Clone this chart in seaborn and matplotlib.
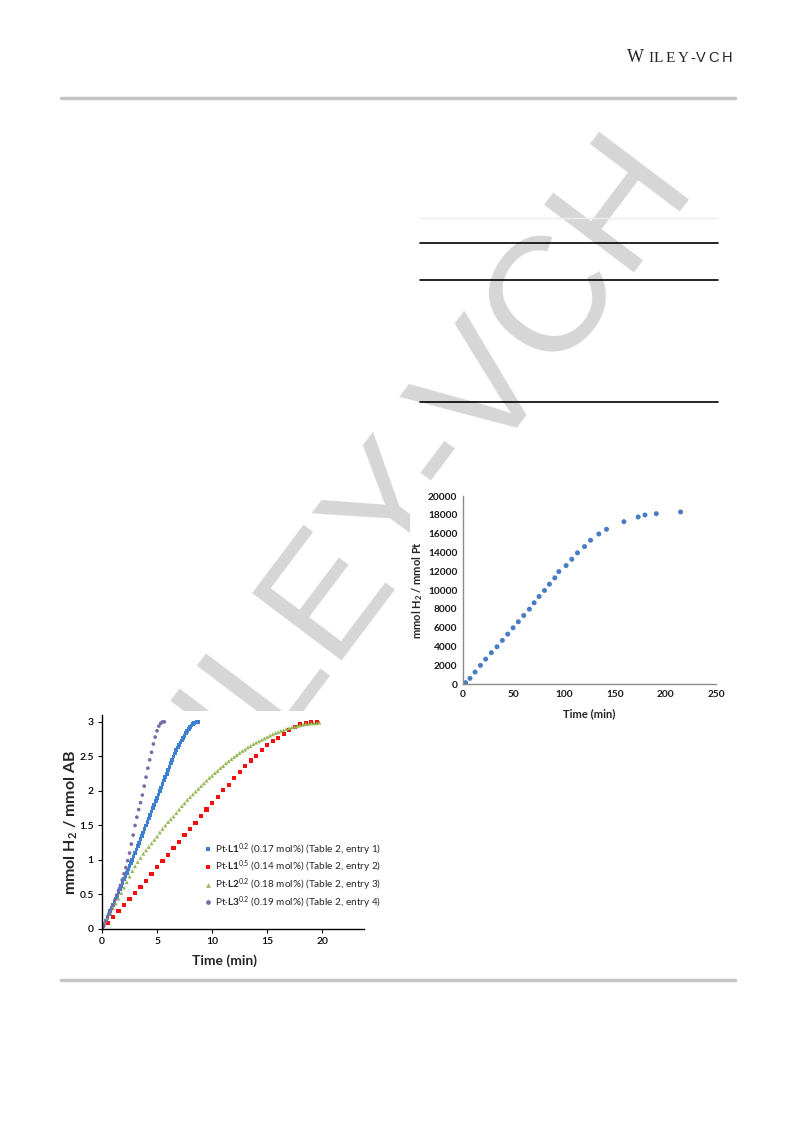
import numpy as np
import matplotlib
matplotlib.use("Agg")
import matplotlib.pyplot as plt
import seaborn as sns
from matplotlib.patches import Rectangle
from matplotlib.lines import Line2D

# right chart: TON vs time
ton_time = [2.6, 6.9, 11.9, 17.2, 22.4, 28.0, 33.6, 38.9, 44.2, 49.5, 54.7, 60.0, 65.6, 70.3,
            75.2, 80.5, 85.4, 90.7, 94.7, 101.9, 107.5, 113.1, 120.1, 126.0, 134.2, 141.8,
            159.0, 173.1, 179.8, 191.0, 215.0]
ton_h2 = [140, 600, 1270, 1980, 2650, 3330, 3960, 4640, 5310, 5980, 6620, 7290, 7960, 8640,
          9310, 9950, 10620, 11290, 11960, 12600, 13270, 13950, 14620, 15290, 15960, 16460,
          17270, 17770, 17980, 18120, 18300]

# left chart: mmol H2 / mmol AB, sampled every dt minutes
l1_02_dt = 0.125
l1_02 = [0.00, 0.04, 0.08, 0.125, 0.17, 0.21, 0.26, 0.30, 0.35,
         0.39, 0.44, 0.48, 0.53, 0.58, 0.62, 0.67, 0.72,
         0.76, 0.81, 0.86, 0.91, 0.96, 1.00, 1.05, 1.10,
         1.15, 1.20, 1.25, 1.30, 1.35, 1.40, 1.45, 1.50,
         1.55, 1.60, 1.65, 1.70, 1.75, 1.80, 1.85, 1.90,
         1.95, 2.00, 2.05, 2.10, 2.15, 2.20, 2.25, 2.30,
         2.35, 2.40, 2.45, 2.50, 2.54, 2.59, 2.63, 2.67,
         2.70, 2.73, 2.77, 2.80, 2.84, 2.87, 2.90, 2.93,
         2.95, 2.97, 2.98, 2.99, 3.00, 3.00]
l1_05_dt = 0.5
l1_05 = [0.015, 0.087, 0.17, 0.26, 0.35, 0.43, 0.52, 0.61, 0.70, 0.80,
         0.90, 0.98, 1.07, 1.17, 1.26, 1.36, 1.45, 1.54, 1.64, 1.73,
         1.82, 1.91, 2.01, 2.09, 2.19, 2.27, 2.36, 2.44, 2.51, 2.59,
         2.66, 2.72, 2.77, 2.83, 2.88, 2.93, 2.97, 2.99, 3.00, 3.00]
l2_02_dt = 0.25
l2_02 = [0.00, 0.08, 0.16, 0.23, 0.30, 0.37, 0.44, 0.52, 0.60, 0.68,
         0.76, 0.84, 0.91, 0.97, 1.03, 1.09, 1.14, 1.19, 1.24, 1.29,
         1.34, 1.40, 1.45, 1.50, 1.55, 1.59, 1.63, 1.68, 1.73, 1.78,
         1.82, 1.87, 1.91, 1.95, 1.99, 2.03, 2.07, 2.11, 2.15, 2.19,
         2.22, 2.26, 2.29, 2.33, 2.36, 2.40, 2.43, 2.46, 2.49, 2.52,
         2.55, 2.58, 2.60, 2.63, 2.65, 2.68, 2.70, 2.72, 2.74, 2.76,
         2.78, 2.80, 2.82, 2.84, 2.85, 2.87, 2.88, 2.90, 2.91, 2.92,
         2.93, 2.94, 2.95, 2.96, 2.97, 2.97, 2.98, 2.98, 2.98, 2.99]
l3_02_dt = 1 / 6
l3_02 = [0.00, 0.05, 0.11, 0.17, 0.23, 0.29, 0.35, 0.42, 0.49, 0.56,
         0.63, 0.71, 0.80, 0.89, 0.99, 1.10, 1.23, 1.36, 1.50, 1.62,
         1.73, 1.83, 1.94, 2.07, 2.20, 2.33, 2.45, 2.56, 2.68, 2.78,
         2.87, 2.94, 2.98, 3.00, 3.00]

legend_labels = [r"Pt·$\mathbf{L1}^{0.2}$ (0.17 mol%) (Table 2, entry 1)",
                 r"Pt·$\mathbf{L1}^{0.5}$ (0.14 mol%) (Table 2, entry 2)",
                 r"Pt·$\mathbf{L2}^{0.2}$ (0.18 mol%) (Table 2, entry 3)",
                 r"Pt·$\mathbf{L3}^{0.2}$ (0.19 mol%) (Table 2, entry 4)"]

sns.set_style("white")
plt.rcParams['font.family'] = ['Lato', 'DejaVu Sans']
plt.rcParams['mathtext.fontset'] = 'custom'
plt.rcParams['mathtext.rm'] = 'Lato'
plt.rcParams['mathtext.bf'] = 'Lato:bold'
plt.rcParams['mathtext.it'] = 'Lato:italic'

W, H = 793, 1121
fig = plt.figure(figsize=(W / 100, H / 100), dpi=100)


def fx(px):
    return px / W


def fy(py):
    return 1 - py / H


# watermark
fig.text(fx(698), fy(188), "WILEY-VCH", fontsize=118, color='#d6d6d6', rotation=53,
         family='Liberation Sans', ha='right', va='baseline', rotation_mode='anchor', zorder=0)

# header and rules
for y in (98, 980):
    fig.add_artist(Line2D([fx(61), fx(735)], [fy(y), fy(y)], color='#c4c4c4', lw=2.5, zorder=2))
fig.add_artist(Line2D([fx(420), fx(718)], [fy(218), fy(218)], color='#ececec', lw=1, zorder=2))
for y in (243, 280, 402):
    fig.add_artist(Line2D([fx(420), fx(718)], [fy(y), fy(y)], color='black', lw=1.2, zorder=2))

fig.text(fx(626.5), fy(61.7), "W", family='Liberation Serif', fontsize=13, ha='left', va='baseline')
for ch, x in zip("ILEY", (648, 653.5, 665.5, 677.5)):
    fig.text(fx(x), fy(61.7), ch, family='Liberation Serif', fontsize=11, ha='left', va='baseline')
for ch, x in zip("-VCH", (690.5, 695.5, 708.5, 721.5)):
    fig.text(fx(x), fy(61.7), ch, family='Liberation Sans', fontsize=10.5, ha='left', va='baseline')

# white chart backgrounds covering the watermark
fig.add_artist(Rectangle((fx(410), fy(728)), fx(740) - fx(410), (728 - 486) / H,
                         transform=fig.transFigure, facecolor='white', edgecolor='none', zorder=0.5))
fig.add_artist(Rectangle((fx(62), fy(968)), fx(385) - fx(62), (968 - 711) / H,
                         transform=fig.transFigure, facecolor='white', edgecolor='none', zorder=0.5))

# right chart
ax1 = fig.add_axes([fx(463), fy(684), (716 - 463) / W, (684 - 496) / H], zorder=1)
sns.scatterplot(x=ton_time, y=ton_h2, ax=ax1, color='#4a7cc4', s=13, edgecolor='none', legend=False)
ax1.set_xlim(0, 250)
ax1.set_ylim(0, 20000)
ax1.set_xticks(np.arange(0, 251, 50))
ax1.set_yticks(np.arange(0, 20001, 2000))
for side in ('top', 'right'):
    ax1.spines[side].set_visible(False)
for side in ('left', 'bottom'):
    ax1.spines[side].set_color('#8c8c8c')
    ax1.spines[side].set_linewidth(1.0)
ax1.tick_params(length=0, labelsize=7.3, pad=4, colors='#1a1a1a')
for lab in ax1.get_xticklabels() + ax1.get_yticklabels():
    lab.set_fontweight('bold')
ax1.set_xlabel("Time (min)", fontsize=8, fontweight='bold')
ax1.set_ylabel(r"mmol H$_{\mathbf{2}}$ / mmol Pt", fontsize=8, fontweight='bold')
ax1.xaxis.set_label_coords(0.5, -0.13)
ax1.yaxis.set_label_coords(-0.15, 0.5)

# left chart
ax2 = fig.add_axes([fx(102), fy(929), (364 - 102) / W, (929 - 715) / H], zorder=1)
series = [(l1_02, l1_02_dt, '#3d7fd0', 's', 7),
          (l1_05, l1_05_dt, '#f20f0f', 's', 9),
          (l2_02, l2_02_dt, '#96b857', '^', 8),
          (l3_02, l3_02_dt, '#7a6aa3', 'o', 7)]
handles = []
for vals, dt, col, mk, sz in series:
    t = np.arange(len(vals)) * dt
    sns.scatterplot(x=t, y=vals, ax=ax2, color=col, marker=mk, s=sz, edgecolor='none', legend=False)
    handles.append(Line2D([], [], color=col, marker=mk, linestyle='none', markersize=3.4,
                          markeredgewidth=0))
ax2.set_xlim(0, 23.8)
ax2.set_ylim(0, 3.1)
ax2.set_xticks(np.arange(0, 21, 5))
ax2.set_yticks([0, 0.5, 1, 1.5, 2, 2.5, 3])
ax2.set_yticklabels(["0", "0.5", "1", "1.5", "2", "2.5", "3"])
for side in ('top', 'right'):
    ax2.spines[side].set_visible(False)
for side in ('left', 'bottom'):
    ax2.spines[side].set_color('black')
    ax2.spines[side].set_linewidth(1.0)
ax2.tick_params(direction='out', length=3, width=0.8, labelsize=7.5, pad=3, colors='black',
                left=True, bottom=True)
for lab in ax2.get_xticklabels() + ax2.get_yticklabels():
    lab.set_fontweight('semibold')
ax2.set_xlabel("Time (min)", fontsize=10, fontweight='bold')
ax2.set_ylabel(r"mmol H$_{\mathbf{2}}$ / mmol AB", fontsize=11.5, fontweight='bold')
ax2.xaxis.set_label_coords(0.469, -0.118)
ax2.yaxis.set_label_coords(-0.085, 0.5)
ax2.legend(handles, legend_labels, loc='upper left', bbox_to_anchor=(fx(205), fy(841)),
           bbox_transform=fig.transFigure, frameon=False, fontsize=7.2, handlelength=0.6,
           handletextpad=0.35, labelspacing=0.12, borderpad=0, borderaxespad=0)

fig.savefig("out.png", dpi=100, facecolor='white')
